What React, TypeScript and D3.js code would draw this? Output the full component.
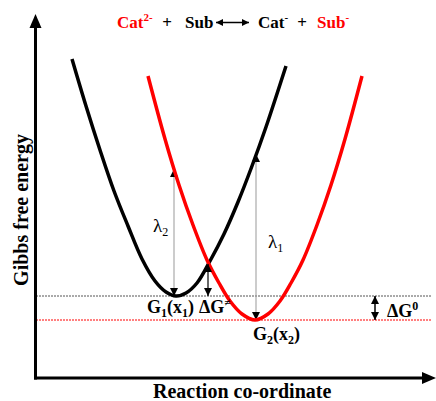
import React from "react";
import * as d3 from "d3";

// Data (x: reaction co-ordinate units, y: free energy units)
const blackX = [36, 50, 64, 78, 92, 106, 119, 130, 140, 150, 161, 174, 188, 202, 216, 230, 250];
const blackY = [319, 272, 228, 187, 152, 119, 97, 86, 82, 85, 95, 117, 144, 176, 212, 251, 312];
const redX = [112, 129, 143, 157, 171, 183, 194, 206, 219, 232, 244, 255, 267, 281, 295, 309, 326];
const redY = [302, 239, 193, 153, 118, 95, 77, 64, 58, 64, 77, 95, 118, 153, 193, 239, 302];

const levelG1 = 82;
const levelG2 = 58;
const levelExtent = [0, 396];

// vertical double arrows: x, bottom, top
const lambda2Arrow = [138, 82, 209];
const lambda1Arrow = [220, 58, 224];
const barrierArrow = [172, 82, 114];
const deltaG0Arrow = [339, 58, 82];

const W = 436;
const H = 401;
const FONT = "'Liberation Serif', 'Times New Roman', serif";

export default function App() {
  const x = d3.scaleLinear().domain([0, 400]).range([36, 436]);
  const y = d3.scaleLinear().domain([0, 360]).range([378, 18]);

  const line = d3
    .line<[number, number]>()
    .x((d) => x(d[0]))
    .y((d) => y(d[1]))
    .curve(d3.curveCatmullRom.alpha(0.5));

  const blackPath = line(blackX.map((v, i) => [v, blackY[i]]) as [number, number][]) || "";
  const redPath = line(redX.map((v, i) => [v, redY[i]]) as [number, number][]) || "";

  const vArrow = (a: number[], color: string, width: number, key: string) => (
    <line
      key={key}
      x1={x(a[0])}
      x2={x(a[0])}
      y1={y(a[1])}
      y2={y(a[2])}
      stroke={color}
      strokeWidth={width}
      markerStart="url(#ah)"
      markerEnd="url(#ah)"
    />
  );

  return (
    <div style={{ position: "absolute", left: 0, top: 0 }}>
      <svg width={W} height={H} style={{ display: "block", fontFamily: FONT }}>
        <defs>
          <marker
            id="ah"
            viewBox="0 0 10 10"
            refX="10"
            refY="5"
            markerWidth="9"
            markerHeight="8"
            markerUnits="userSpaceOnUse"
            orient="auto-start-reverse"
          >
            <path d="M0,0L10,5L0,10z" fill="#000" />
          </marker>
          <marker
            id="ahs"
            viewBox="0 0 10 10"
            refX="10"
            refY="5"
            markerWidth="8"
            markerHeight="7"
            markerUnits="userSpaceOnUse"
            orient="auto-start-reverse"
          >
            <path d="M0,0L10,5L0,10z" fill="#000" />
          </marker>
        </defs>
        <rect width={W} height={H} fill="#fff" />

        {/* level lines */}
        <line
          x1={x(levelExtent[0])}
          x2={x(levelExtent[1])}
          y1={y(levelG1)}
          y2={y(levelG1)}
          stroke="#555"
          strokeWidth={1}
          strokeDasharray="2 1"
        />
        <line
          x1={x(levelExtent[0])}
          x2={x(levelExtent[1])}
          y1={y(levelG2)}
          y2={y(levelG2)}
          stroke="#f00"
          strokeWidth={1}
          strokeDasharray="2 1"
        />

        {/* axes */}
        <line x1={35.5} x2={35.5} y1={379.5} y2={26} stroke="#000" strokeWidth={3} />
        <path d="M35.5,14 L41.5,28 L29.5,28 Z" fill="#000" />
        <line x1={34} x2={424} y1={378} y2={378} stroke="#000" strokeWidth={3} />
        <path d="M436,378 L422,372 L422,384 Z" fill="#000" />

        {/* λ arrows (thin grey) */}
        {vArrow(lambda2Arrow, "#999", 1, "l2")}
        {vArrow(lambda1Arrow, "#999", 1, "l1")}

        {/* curves */}
        <path d={blackPath} fill="none" stroke="#000" strokeWidth={3.5} strokeLinecap="butt" />
        <path d={redPath} fill="none" stroke="#f00" strokeWidth={3.5} strokeLinecap="butt" />

        {vArrow(barrierArrow, "#000", 1.2, "dg")}
        {vArrow(deltaG0Arrow, "#000", 1.5, "dg0")}

        {/* title */}
        <g fontWeight="bold" fontSize={17}>
          <text x={117} y={28} fill="#f00">
            Cat<tspan fontSize={11} dy={-7}>2-</tspan>
          </text>
          <text x={167} y={28} textAnchor="middle">+</text>
          <text x={185} y={28}>Sub</text>
          <text x={258} y={28}>
            Cat<tspan fontSize={11} dy={-7}>-</tspan>
          </text>
          <text x={302} y={28} textAnchor="middle">+</text>
          <text x={317} y={28} fill="#f00">
            Sub<tspan fontSize={11} dy={-7}>-</tspan>
          </text>
        </g>
        <line
          x1={216}
          x2={249}
          y1={22.5}
          y2={22.5}
          stroke="#000"
          strokeWidth={1.5}
          markerStart="url(#ahs)"
          markerEnd="url(#ahs)"
        />

        {/* lambda labels */}
        <text x={153} y={232} fontSize={19}>
          λ<tspan fontSize={12} dy={4}>2</tspan>
        </text>
        <text x={268} y={248} fontSize={19}>
          λ<tspan fontSize={12} dy={4}>1</tspan>
        </text>

        {/* point labels */}
        <g fontWeight="bold" fontSize={18}>
          <text x={147} y={313}>
            G<tspan fontSize={12} dy={4}>1</tspan>
            <tspan dy={-4}>(x</tspan>
            <tspan fontSize={12} dy={4}>1</tspan>
            <tspan dy={-4}>)</tspan>
          </text>
          <text x={199} y={313}>
            ΔG<tspan fontSize={11} dy={-7}>≠</tspan>
          </text>
          <text x={253} y={340}>
            G<tspan fontSize={12} dy={4}>2</tspan>
            <tspan dy={-4}>(x</tspan>
            <tspan fontSize={12} dy={4}>2</tspan>
            <tspan dy={-4}>)</tspan>
          </text>
          <text x={387} y={317}>
            ΔG<tspan fontSize={12} dy={-7}>0</tspan>
          </text>
        </g>

        {/* axis titles */}
        <text x={153} y={398} fontWeight="bold" fontSize={20}>
          Reaction co-ordinate
        </text>
        <text
          transform="translate(28,210) rotate(-90)"
          textAnchor="middle"
          fontWeight="bold"
          fontSize={20}
        >
          Gibbs free energy
        </text>
      </svg>
    </div>
  );
}
